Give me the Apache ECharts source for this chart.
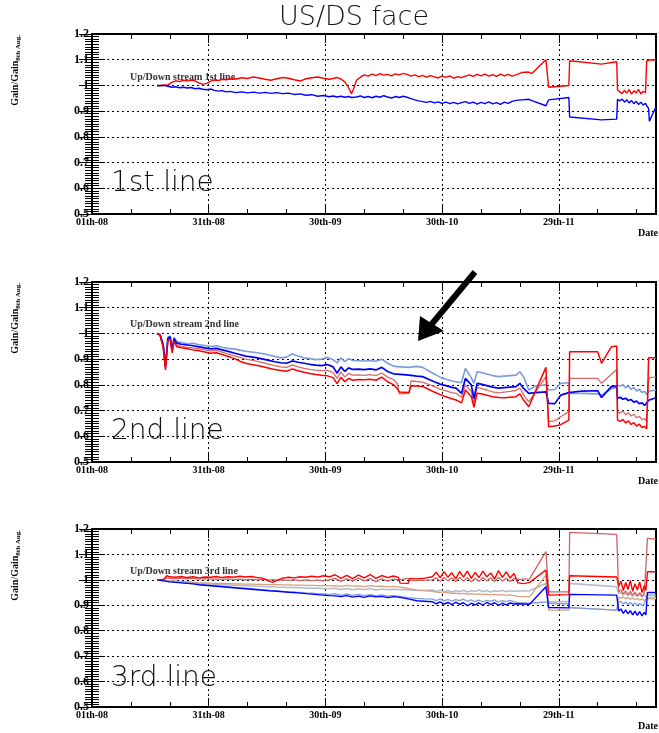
<!DOCTYPE html>
<html>
<head>
<meta charset="utf-8">
<script src="https://cdn.jsdelivr.net/npm/echarts@6.0.0/dist/echarts.min.js"></script>
<style>
html, body { margin: 0; padding: 0; background: #fff; }
#main { width: 659px; height: 733px; }
</style>
</head>
<body>
<div id="main"></div>
<script>
// x = days since 1st Aug, labels every 30 days
var dateLabels = ['01th-08', '31th-08', '30th-09', '30th-10', '29th-11'];

// ---- 1st line ----
var days1 = [16.7,
  17.5,18.5,19.5,20.5,21.5,22.5,23.5,24.5,25.5,26.5,27.5,28.5,29.5,30.5,31.5,32.5,33.5,34.5,35.5,
  37,38.5,40,41.5,43,44.5,46,47.5,49,50.5,52,53.5,55,56.5,58,59.5,61,
  62,63,64,65,66,66.7,67.2,
  68,69,70,71,72,73,74,75,76,77,78,79,80,81,82,83,84,85,86,87,88,89,90,91,92,93,94,95,96,97,
  98,99,100,101,102,103,104,105,106,107,108,109,
  110.5,112.3,113.1,116.7,117.4,122.6,122.8,131,134.9,135.1,
  135.7,136.3,136.9,137.5,138.1,138.7,139.3,139.9,140.5,141.1,141.7,142.3,
  142.6,143.1,143.3,145];
var red1 = [1.000,
  1.000,1.002,1.001,1.012,1.018,1.015,1.020,1.017,1.021,1.018,1.010,1.004,1.008,1.017,1.021,1.019,1.024,1.022,1.026,
  1.025,1.030,1.027,1.033,1.029,1.024,1.020,1.026,1.031,1.028,1.022,1.017,1.026,1.030,1.033,1.028,1.024,
  1.027,1.031,1.025,1.014,0.990,0.968,0.985,
  1.020,1.032,1.041,1.036,1.044,1.038,1.046,1.040,1.043,1.037,1.045,1.041,1.047,1.043,1.036,1.041,1.034,1.039,1.032,1.038,
  1.033,1.029,1.036,1.031,1.037,1.028,1.034,1.030,1.036,1.041,1.035,1.043,1.037,1.044,1.036,1.042,1.035,1.044,1.037,1.043,
  1.036,1.041,
  1.050,1.052,1.046,1.100,0.993,1.000,1.096,1.083,1.092,0.982,
  0.975,0.968,0.981,0.970,0.984,0.966,0.979,0.971,0.985,0.967,0.977,0.972,
  1.095,1.099,1.099,1.099];
var blue1 = [1.000,
  0.999,1.000,0.997,0.993,0.995,0.991,0.993,0.990,0.992,0.987,0.989,0.985,0.983,0.986,0.981,0.978,0.980,0.975,0.977,
  0.972,0.975,0.971,0.974,0.970,0.973,0.969,0.972,0.968,0.970,0.965,0.967,0.962,0.964,0.958,0.961,0.956,
  0.959,0.955,0.958,0.954,0.957,0.953,0.958,
  0.955,0.959,0.953,0.957,0.952,0.958,0.954,0.960,0.955,0.951,0.957,0.953,0.958,0.954,0.949,0.944,0.940,0.937,0.934,0.938,
  0.932,0.936,0.930,0.935,0.929,0.934,0.928,0.933,0.937,0.930,0.935,0.927,0.934,0.929,0.936,0.928,0.933,0.926,0.935,0.930,
  0.938,0.942,
  0.944,0.946,0.941,0.921,0.944,0.953,0.877,0.866,0.869,0.946,
  0.940,0.947,0.935,0.944,0.932,0.941,0.929,0.938,0.926,0.935,0.924,0.930,
  0.921,0.911,0.861,0.917];

// ---- 2nd line ----
var days2 = [16.7,17.5,18.3,18.9,19.5,20.1,20.6,21.1,21.8,23,
  24.5,26,27.5,29,30.5,32,33.5,35,36.5,38,
  39.5,41,42.5,44,45.5,47,48.5,50,51.5,53,
  54.5,56,57.5,59,60.5,62,63,64,65,66,
  67,68.5,70,71.5,73,74.5,76,77.5,78.5,79,
  81.5,82,83.5,85,86.5,88,89.5,91,92.5,93.6,
  95,96,97.5,98.2,99,100,101.5,103,104.5,106,
  107.5,109,110,111,112.3,114,116.7,117.4,119,120.5,
  122.6,122.8,126,130,131,133.5,134.9,135.1,135.8,136.5,
  137.2,137.9,138.6,139.3,140,140.7,141.4,142.1,142.6,143.1,
  143.3,145];
var lightBlue2 = [1.000,0.995,0.960,0.880,0.985,0.990,0.940,0.985,0.968,0.965,
  0.960,0.962,0.956,0.953,0.949,0.952,0.946,0.942,0.940,0.935,
  0.931,0.928,0.925,0.921,0.916,0.910,0.905,0.908,0.920,0.912,
  0.905,0.902,0.898,0.900,0.906,0.898,0.885,0.905,0.890,0.902,
  0.895,0.894,0.893,0.895,0.892,0.900,0.884,0.873,0.871,0.870,
  0.868,0.870,0.872,0.868,0.855,0.842,0.830,0.822,0.815,0.812,
  0.808,0.864,0.828,0.806,0.851,0.848,0.842,0.836,0.832,0.834,
  0.836,0.838,0.851,0.830,0.780,0.795,0.800,0.780,0.782,0.806,
  0.808,0.767,0.767,0.765,0.760,0.785,0.790,0.800,0.795,0.801,
  0.788,0.796,0.782,0.790,0.776,0.783,0.770,0.775,0.762,0.775,
  0.778,0.780];
var blue2 = [1.000,0.995,0.955,0.870,0.980,0.987,0.932,0.980,0.962,0.958,
  0.955,0.952,0.948,0.944,0.940,0.942,0.936,0.930,0.924,0.918,
  0.912,0.909,0.905,0.900,0.895,0.890,0.886,0.884,0.893,0.888,
  0.884,0.880,0.877,0.875,0.879,0.870,0.845,0.870,0.852,0.866,
  0.860,0.861,0.859,0.862,0.858,0.868,0.852,0.843,0.842,0.840,
  0.838,0.836,0.834,0.832,0.822,0.812,0.803,0.797,0.790,0.787,
  0.767,0.825,0.800,0.747,0.806,0.803,0.797,0.791,0.787,0.789,
  0.791,0.793,0.806,0.785,0.767,0.770,0.773,0.728,0.727,0.760,
  0.770,0.776,0.776,0.777,0.751,0.793,0.795,0.747,0.752,0.744,
  0.748,0.739,0.743,0.733,0.737,0.727,0.730,0.720,0.715,0.740,
  0.745,0.750];
var salmon2 = [1.000,0.993,0.950,0.865,0.975,0.982,0.928,0.975,0.955,0.950,
  0.946,0.944,0.940,0.936,0.932,0.934,0.927,0.920,0.914,0.907,
  0.900,0.896,0.891,0.886,0.880,0.875,0.870,0.868,0.878,0.870,
  0.864,0.860,0.857,0.855,0.856,0.848,0.825,0.850,0.830,0.845,
  0.838,0.839,0.837,0.840,0.836,0.846,0.830,0.820,0.805,0.765,
  0.767,0.815,0.813,0.811,0.802,0.793,0.783,0.777,0.770,0.767,
  0.752,0.800,0.775,0.728,0.790,0.786,0.780,0.773,0.769,0.772,
  0.775,0.778,0.788,0.760,0.734,0.772,0.832,0.657,0.660,0.676,
  0.696,0.825,0.825,0.825,0.806,0.840,0.860,0.696,0.690,0.698,
  0.684,0.691,0.679,0.685,0.672,0.678,0.665,0.669,0.657,0.820,
  0.828,0.830];
var red2 = [1.000,0.993,0.945,0.858,0.972,0.978,0.924,0.970,0.948,0.944,
  0.940,0.936,0.933,0.928,0.923,0.925,0.918,0.910,0.903,0.892,
  0.884,0.879,0.875,0.870,0.865,0.860,0.856,0.853,0.862,0.855,
  0.849,0.844,0.840,0.837,0.835,0.828,0.805,0.830,0.812,0.825,
  0.818,0.821,0.820,0.822,0.818,0.830,0.812,0.801,0.785,0.772,
  0.770,0.797,0.796,0.794,0.783,0.772,0.762,0.754,0.746,0.741,
  0.730,0.780,0.755,0.713,0.767,0.765,0.760,0.754,0.751,0.750,
  0.752,0.754,0.765,0.740,0.715,0.775,0.868,0.637,0.640,0.645,
  0.663,0.929,0.929,0.929,0.884,0.948,0.951,0.663,0.658,0.665,
  0.652,0.660,0.646,0.653,0.640,0.647,0.634,0.638,0.628,0.905,
  0.905,0.905];

// ---- 3rd line ----
var days3 = [16.7,17.5,18.5,19.2,20,21.5,23,24.5,26,27.5,
  29,30.5,32,33.5,35,36.5,38,39.5,41,42.5,
  44,45.5,46.5,47.5,49,50.5,52,53.5,55,56.5,
  58,59.5,61,62.5,64,65.5,67,68.5,70,71.5,
  73,74.5,76,77.5,78.8,79.2,81.3,81.7,83.5,85.5,
  87.5,88.5,89.5,90.5,91.5,92.5,93.5,94.5,95.5,96.5,
  97.5,98.5,99.5,100.5,101.5,102.5,103.5,104.5,105.5,106.5,
  107.5,108.5,109.5,111,112.5,113,116.7,117.4,122.6,122.8,
  134.9,135.4,136,136.6,137.2,137.8,138.4,139,139.6,140.2,
  140.8,141.4,142,142.4,142.8,145];
var red3 = [1.000,1.001,1.003,1.016,1.012,1.010,1.013,1.009,1.012,1.008,
  1.011,1.010,1.013,1.009,1.012,1.010,1.014,1.011,1.013,1.009,
  1.006,0.995,0.990,0.998,1.007,1.010,1.008,1.012,1.010,1.014,
  1.011,1.016,1.012,1.020,1.006,1.018,1.005,1.019,1.008,1.021,
  1.006,1.017,1.009,1.015,1.010,0.987,0.986,1.006,1.004,1.007,
  1.012,1.030,1.008,1.032,1.010,1.028,1.004,1.033,1.011,1.035,
  1.006,1.029,1.009,1.034,1.012,1.027,1.003,1.036,1.010,1.031,
  1.007,1.025,0.988,0.985,0.990,0.992,1.039,0.940,0.942,1.016,
  1.011,0.975,0.995,0.958,0.990,0.962,0.998,0.955,0.985,0.960,
  0.992,0.950,0.978,0.958,1.032,1.032];
var rose3 = [1.000,1.000,1.002,1.008,1.006,1.005,1.007,1.004,1.006,1.003,
  1.005,1.003,1.004,1.002,1.004,1.001,1.003,1.000,1.002,1.000,
  1.002,0.999,1.001,0.998,1.000,0.998,1.001,0.997,1.000,0.997,
  0.999,0.996,1.000,1.006,0.994,1.004,0.995,1.007,0.996,1.005,
  0.993,1.004,0.995,1.003,1.000,1.006,1.006,0.998,0.997,0.999,
  1.000,1.008,0.994,1.009,0.996,1.007,0.993,1.010,0.995,1.008,
  0.992,1.006,0.994,1.009,0.996,1.007,0.993,1.010,0.995,1.006,
  0.994,1.005,1.002,1.003,1.004,1.010,1.111,0.953,0.953,1.187,
  1.179,0.953,0.960,0.945,0.957,0.942,0.955,0.940,0.952,0.938,
  0.950,0.936,0.947,0.940,1.163,1.160];
var tan3 = [1.000,0.999,0.998,0.997,0.996,0.995,0.993,0.992,0.991,0.989,
  0.988,0.987,0.986,0.986,0.985,0.984,0.984,0.983,0.983,0.982,
  0.982,0.981,0.981,0.981,0.980,0.980,0.979,0.979,0.978,0.978,
  0.977,0.977,0.976,0.977,0.974,0.978,0.975,0.976,0.973,0.977,
  0.974,0.975,0.972,0.974,0.972,0.970,0.966,0.964,0.961,0.958,
  0.955,0.952,0.950,0.949,0.951,0.947,0.948,0.945,0.947,0.944,
  0.946,0.943,0.945,0.942,0.944,0.941,0.943,0.940,0.942,0.939,
  0.941,0.938,0.935,0.934,0.933,0.936,1.019,0.881,0.881,0.891,
  0.881,0.930,0.928,0.933,0.926,0.931,0.924,0.929,0.922,0.927,
  0.920,0.925,0.919,0.922,0.925,0.925];
var gray3 = [1.000,0.999,0.998,0.997,0.995,0.993,0.992,0.990,0.988,0.986,
  0.985,0.983,0.982,0.981,0.980,0.979,0.978,0.977,0.976,0.975,
  0.974,0.973,0.973,0.972,0.971,0.970,0.970,0.969,0.968,0.967,
  0.967,0.966,0.965,0.967,0.962,0.966,0.961,0.965,0.962,0.966,
  0.960,0.964,0.961,0.963,0.962,0.961,0.960,0.959,0.958,0.958,
  0.960,0.954,0.959,0.953,0.958,0.952,0.957,0.953,0.959,0.952,
  0.958,0.954,0.960,0.953,0.958,0.952,0.957,0.954,0.959,0.953,
  0.957,0.955,0.956,0.956,0.957,0.960,0.986,0.914,0.914,0.986,
  0.973,0.945,0.950,0.940,0.948,0.938,0.946,0.936,0.944,0.935,
  0.942,0.933,0.940,0.934,0.930,0.930];
var corn3 = [1.000,0.998,0.996,0.995,0.993,0.991,0.989,0.987,0.985,0.983,
  0.980,0.978,0.976,0.974,0.972,0.970,0.968,0.967,0.965,0.963,
  0.961,0.959,0.958,0.957,0.955,0.954,0.952,0.951,0.949,0.948,
  0.946,0.945,0.943,0.945,0.940,0.944,0.939,0.943,0.938,0.942,
  0.937,0.941,0.936,0.938,0.936,0.934,0.930,0.928,0.927,0.925,
  0.924,0.918,0.925,0.917,0.923,0.916,0.922,0.918,0.924,0.915,
  0.921,0.914,0.920,0.913,0.919,0.915,0.921,0.912,0.918,0.914,
  0.919,0.913,0.910,0.909,0.908,0.909,0.913,0.908,0.905,0.891,
  0.881,0.912,0.915,0.905,0.913,0.903,0.911,0.901,0.909,0.900,
  0.907,0.898,0.905,0.899,0.940,0.940];
var blue3 = [1.000,0.998,0.996,0.994,0.992,0.990,0.988,0.986,0.984,0.981,
  0.979,0.977,0.975,0.973,0.971,0.969,0.967,0.965,0.963,0.961,
  0.959,0.957,0.956,0.955,0.953,0.951,0.950,0.948,0.946,0.944,
  0.942,0.940,0.938,0.937,0.934,0.938,0.932,0.936,0.931,0.937,
  0.933,0.935,0.930,0.934,0.932,0.930,0.925,0.920,0.918,0.916,
  0.914,0.906,0.913,0.905,0.911,0.903,0.912,0.904,0.910,0.898,
  0.908,0.902,0.909,0.901,0.911,0.903,0.910,0.900,0.908,0.902,
  0.909,0.905,0.906,0.905,0.904,0.910,0.973,0.891,0.890,0.943,
  0.940,0.878,0.885,0.868,0.882,0.866,0.879,0.862,0.877,0.860,
  0.875,0.858,0.872,0.862,0.950,0.950];

var panels = [
  {top: 34, height: 180, note: 'Up/Down stream 1st line', tag: '1st line', days: days1,
   lines: [[red1, '#ff0000', 1.4], [blue1, '#0000ff', 1.4]]},
  {top: 282, height: 180, note: 'Up/Down stream 2nd line', tag: '2nd line', days: days2,
   lines: [[lightBlue2, '#7b9bdb', 1.6], [salmon2, '#d96a6a', 1.3], [blue2, '#0000ff', 1.7], [red2, '#ff0000', 1.5]]},
  {top: 529, height: 178, note: 'Up/Down stream 3rd line', tag: '3rd line', days: days3,
   lines: [[gray3, '#b3bcc6', 1.6], [tan3, '#d4a283', 1.3], [corn3, '#7f9de0', 1.3],
           [rose3, '#d06262', 1.3], [blue3, '#0000ff', 1.4], [red3, '#ff0000', 1.4]]}
];

var serif = '"Liberation Serif", "Times New Roman", serif';
var thin = '"DejaVu Sans", "Noto Sans", sans-serif';

function pairs(days, vals) {
  return days.map(function (d, i) { return [d, vals[i]]; });
}

var grids = [], xAxes = [], yAxes = [], series = [], graphics = [];

panels.forEach(function (p, i) {
  grids.push({left: 92, right: 1, top: p.top, height: p.height, show: true,
    borderColor: '#000', borderWidth: 2});

  // bottom/top, major (30 days) and minor (10 days) ticks
  [['bottom', 30, 9, true], ['bottom', 10, 5, false], ['top', 30, 9, false], ['top', 10, 5, false]].forEach(function (a) {
    xAxes.push({
      type: 'value', gridIndex: i, position: a[0], min: 0, max: 145, interval: a[1],
      axisLine: {show: false},
      axisTick: {inside: true, length: a[2], lineStyle: {color: '#000', width: 1}},
      axisLabel: {show: a[3], margin: 3, color: '#000', fontFamily: serif, fontWeight: 'bold', fontSize: 10,
        formatter: function (v) { return (v % 30 === 0 && dateLabels[v / 30]) || ''; }},
      splitLine: {show: a[3], lineStyle: {color: '#000', type: [2, 3], width: 1}}
    });
  });

  // left/right, major (0.1) and minor (0.01) ticks
  [['left', 0.1, 13, true], ['left', 0.01, 7, false], ['right', 0.1, 13, false], ['right', 0.01, 7, false]].forEach(function (a) {
    yAxes.push({
      type: 'value', gridIndex: i, position: a[0], min: 0.5, max: 1.2, interval: a[1],
      axisLine: {show: false},
      axisTick: {inside: true, length: a[2], lineStyle: {color: '#000', width: 1}},
      axisLabel: {show: a[3], margin: 3, color: '#000', fontFamily: serif, fontWeight: 'bold', fontSize: 12},
      splitLine: {show: a[3], lineStyle: {color: '#000', type: [2, 3], width: 1}}
    });
  });

  p.lines.forEach(function (l) {
    series.push({
      type: 'line', xAxisIndex: i * 4, yAxisIndex: i * 4,
      data: pairs(p.days, l[0]),
      showSymbol: false, symbol: 'none', silent: true,
      lineStyle: {color: l[1], width: l[2]}, itemStyle: {color: l[1]}
    });
  });

  // y title, rotated
  graphics.push({
    type: 'text', x: 15, y: p.top + 1, rotation: Math.PI / 2,
    style: {
      text: '{a|Gain/Gain}{b|8th Aug.}',
      align: 'right', textAlign: 'right', verticalAlign: 'middle', textVerticalAlign: 'middle',
      rich: {
        a: {fontFamily: serif, fontWeight: 'bold', fontSize: 10, fill: '#000', lineHeight: 14},
        b: {fontFamily: serif, fontWeight: 'bold', fontSize: 7, fill: '#000', padding: [6, 0, 0, 0]}
      }
    }
  });
  graphics.push({
    type: 'text', x: 130, y: p.top + (i === 0 ? 43 : 42),
    style: {text: p.note, fontFamily: serif, fontWeight: 'bold', fontSize: 10, fill: '#333',
      align: 'left', textAlign: 'left', verticalAlign: 'middle', textVerticalAlign: 'middle'}
  });
  graphics.push({
    type: 'text', x: 111, y: p.top + 150,
    style: {text: p.tag, fontFamily: thin, fontWeight: 200, fontSize: 28, fill: '#111',
      align: 'left', textAlign: 'left', verticalAlign: 'middle', textVerticalAlign: 'middle'}
  });
  graphics.push({
    type: 'text', x: 658, y: p.top + p.height + 19,
    style: {text: 'Date', fontFamily: serif, fontWeight: 'bold', fontSize: 10, fill: '#000',
      align: 'right', textAlign: 'right', verticalAlign: 'middle', textVerticalAlign: 'middle'}
  });
});

graphics.push({
  type: 'text', x: 354, y: 18,
  style: {text: 'US/DS face', fontFamily: thin, fontWeight: 200, fontSize: 27, fill: '#111',
    align: 'center', textAlign: 'center', verticalAlign: 'middle', textVerticalAlign: 'middle'}
});
// arrow in the 2nd panel
graphics.push({
  type: 'polyline', shape: {points: [[475, 272], [431, 325]]},
  style: {stroke: '#000', lineWidth: 6, fill: null}
});
graphics.push({
  type: 'polygon', shape: {points: [[418, 341], [420, 316], [444, 331]]},
  style: {fill: '#000'}
});

var mychart = echarts.init(document.getElementById('main'));
mychart.setOption({
  animation: false,
  backgroundColor: '#fff',
  grid: grids,
  xAxis: xAxes,
  yAxis: yAxes,
  series: series,
  graphic: graphics
});
</script>
</body>
</html>
